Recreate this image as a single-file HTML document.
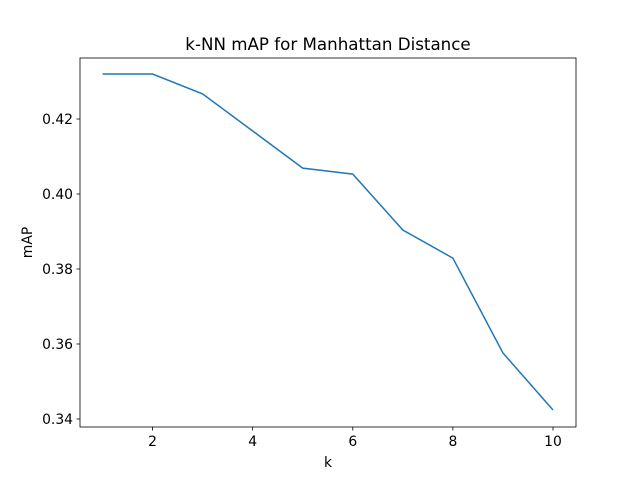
<!DOCTYPE html>
<html><head><meta charset="utf-8"><style>
body{margin:0;background:#fff}
text{font-family:"DejaVu Sans","Liberation Sans",sans-serif;fill:#000}
</style></head><body>
<svg id="chart" width="640" height="480" xmlns="http://www.w3.org/2000/svg">
<rect width="640" height="480" fill="#fff"/>
<text x="328" y="50" font-size="16.7" text-anchor="middle">k-NN mAP for Manhattan Distance</text>
<g id="xt"></g><g id="yt"></g>
<polyline id="line" fill="none" stroke="#1f77b4" stroke-width="1.5"/>
<rect x="80" y="58" width="496" height="369" fill="none" stroke="#000" stroke-width="0.8"/>
<text x="328" y="467" font-size="13.9" text-anchor="middle">k</text>
<text transform="translate(32,242.5) rotate(-90)" font-size="13.9" text-anchor="middle">mAP</text>
</svg>
<script>
const ks=[1,2,3,4,5,6,7,8,9,10];
const mapValues=[0.4320,0.4320,0.4267,0.4168,0.4069,0.4053,0.3904,0.3829,0.3576,0.3424];
const xTicks=[2,4,6,8,10];
const yTicks=[0.34,0.36,0.38,0.40,0.42];
const NS="http://www.w3.org/2000/svg";
function xs(k){return 102.5+(k-1)*(553-102.5)/9;}
function ys(v){return 419-(v-0.34)*3750;}
document.getElementById('line').setAttribute('points',ks.map((k,i)=>xs(k)+','+ys(mapValues[i])).join(' '));
const xt=document.getElementById('xt'),yt=document.getElementById('yt');
xTicks.forEach(t=>{
 const l=document.createElementNS(NS,'line');
 l.setAttribute('x1',xs(t));l.setAttribute('x2',xs(t));l.setAttribute('y1',427);l.setAttribute('y2',430.5);l.setAttribute('stroke','#000');l.setAttribute('stroke-width','0.8');
 
 
 xt.appendChild(l);
 const tx=document.createElementNS(NS,'text');
 tx.setAttribute('x',xs(t));tx.setAttribute('y',446);tx.setAttribute('font-size','13.9');tx.setAttribute('text-anchor','middle');tx.textContent=t;
 
 
 xt.appendChild(tx);
});
yTicks.forEach(t=>{
 const l=document.createElementNS(NS,'line');
 l.setAttribute('x1',76.5);l.setAttribute('x2',80);l.setAttribute('y1',ys(t));l.setAttribute('y2',ys(t));l.setAttribute('stroke','#000');l.setAttribute('stroke-width','0.8');
 
 
 yt.appendChild(l);
 const tx=document.createElementNS(NS,'text');
 tx.setAttribute('x',73);tx.setAttribute('y',ys(t)+5);tx.setAttribute('font-size','13.9');tx.setAttribute('text-anchor','end');tx.textContent=t.toFixed(2);
 
 
 yt.appendChild(tx);
});
</script>
</body></html>
